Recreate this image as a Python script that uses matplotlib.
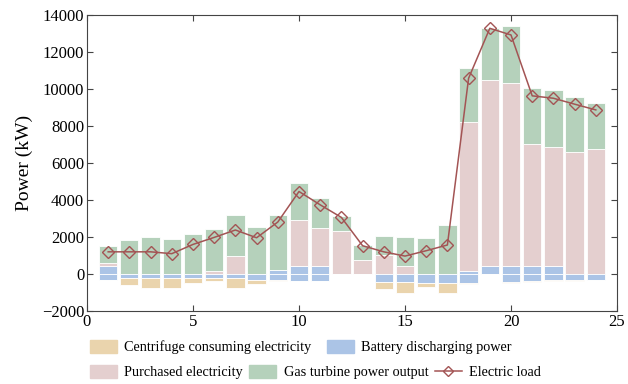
import matplotlib

matplotlib.use("Agg")

import matplotlib.pyplot as plt
import numpy as np
from matplotlib.lines import Line2D
from matplotlib.patches import Patch

plt.rcParams["font.family"] = ["Liberation Serif", "DejaVu Serif"]

hours = np.arange(1, 25)

# positive stack (bottom -> top)
battery_dis = [450, 0, 0, 0, 0, 0, 0, 0, 216, 450, 450, 0,
               0, 0, 0, 0, 0, 180, 450, 450, 450, 450, 0, 0]
purchased = [140, 0, 0, 0, 0, 190, 990, 0, 0, 2470, 2050, 2340,
             770, 1040, 440, 0, 0, 8010, 10040, 9900, 6590, 6440, 6610, 6770]
gas_turbine = [940, 1820, 2020, 1910, 2180, 2220, 2200, 2540, 3000, 1980, 1620, 770,
               810, 990, 1580, 1960, 2660, 2970, 2830, 3060, 3040, 3050, 2980, 2460]

# negative stack (top -> bottom)
battery_chg = [-300, -230, -230, -230, -200, -210, -230, -300, -320, -350, -350, 0,
               0, -410, -430, -500, -460, -480, 0, -410, -400, -330, -310, -300]
centrifuge = [-30, -360, -540, -540, -300, -190, -540, -240, -30, -30, -30, 0,
              0, -420, -570, -190, -570, -50, 0, -50, -30, -20, -40, -20]

electric_load = [1200, 1200, 1200, 1100, 1600, 1980, 2380, 1960, 2810, 4460, 3740, 3060,
                 1530, 1200, 970, 1260, 1570, 10580, 13280, 12920, 9630, 9500, 9180, 8870]

C_CENT = "#ead4ad"
C_BAT = "#abc4e6"
C_PUR = "#e4cfcf"
C_GAS = "#b5d1bb"
C_LOAD = "#a35454"

fig = plt.figure(figsize=(6.28, 3.84), dpi=100)
ax = fig.add_axes([0.1385, 0.19, 0.844, 0.771])

w = 0.86
kw = dict(width=w, edgecolor="white", linewidth=0.6)
bd = np.array(battery_dis)
pu = np.array(purchased)
ax.bar(hours, bd, color=C_BAT, **kw)
ax.bar(hours, pu, bottom=bd, color=C_PUR, **kw)
ax.bar(hours, gas_turbine, bottom=bd + pu, color=C_GAS, **kw)
bc = np.array(battery_chg)
ax.bar(hours, bc, color=C_BAT, **kw)
ax.bar(hours, centrifuge, bottom=bc, color=C_CENT, **kw)

ax.plot(hours, electric_load, color=C_LOAD, linewidth=1.1, marker="D",
        markersize=6.5, markerfacecolor="none", markeredgecolor=C_LOAD,
        markeredgewidth=1.0)

ax.set_xlim(0, 25)
ax.set_ylim(-2000, 14000)
ax.set_xticks(range(0, 26, 5))
ax.set_yticks(range(-2000, 14001, 2000))
ax.tick_params(direction="in", top=True, right=True, labelsize=12,
               length=4, pad=2, color="#444444")
for s in ax.spines.values():
    s.set_color("#444444")
ax.set_ylabel("Power (kW)", fontsize=14, labelpad=6)

h1 = [Patch(color=C_CENT), Patch(color=C_BAT)]
l1 = ["Centrifuge consuming electricity", "Battery discharging power"]
h2 = [Patch(color=C_PUR), Patch(color=C_GAS),
      Line2D([], [], color=C_LOAD, linewidth=1.1, marker="D", markersize=5,
             markerfacecolor="none", markeredgecolor=C_LOAD)]
l2 = ["Purchased electricity", "Gas turbine power output", "Electric load"]

common = dict(frameon=False, fontsize=10.3, handlelength=1.9, handleheight=1.0,
              handletextpad=0.5, borderpad=0, borderaxespad=0, loc="center left")
fig.legend(h1, l1, ncol=2, columnspacing=1.1,
           bbox_to_anchor=(0.143, 1 - 347 / 384), **common)
fig.legend(h2, l2, ncol=3, columnspacing=0.45,
           bbox_to_anchor=(0.143, 1 - 372 / 384), **common)

fig.savefig("out.png", dpi=100)
